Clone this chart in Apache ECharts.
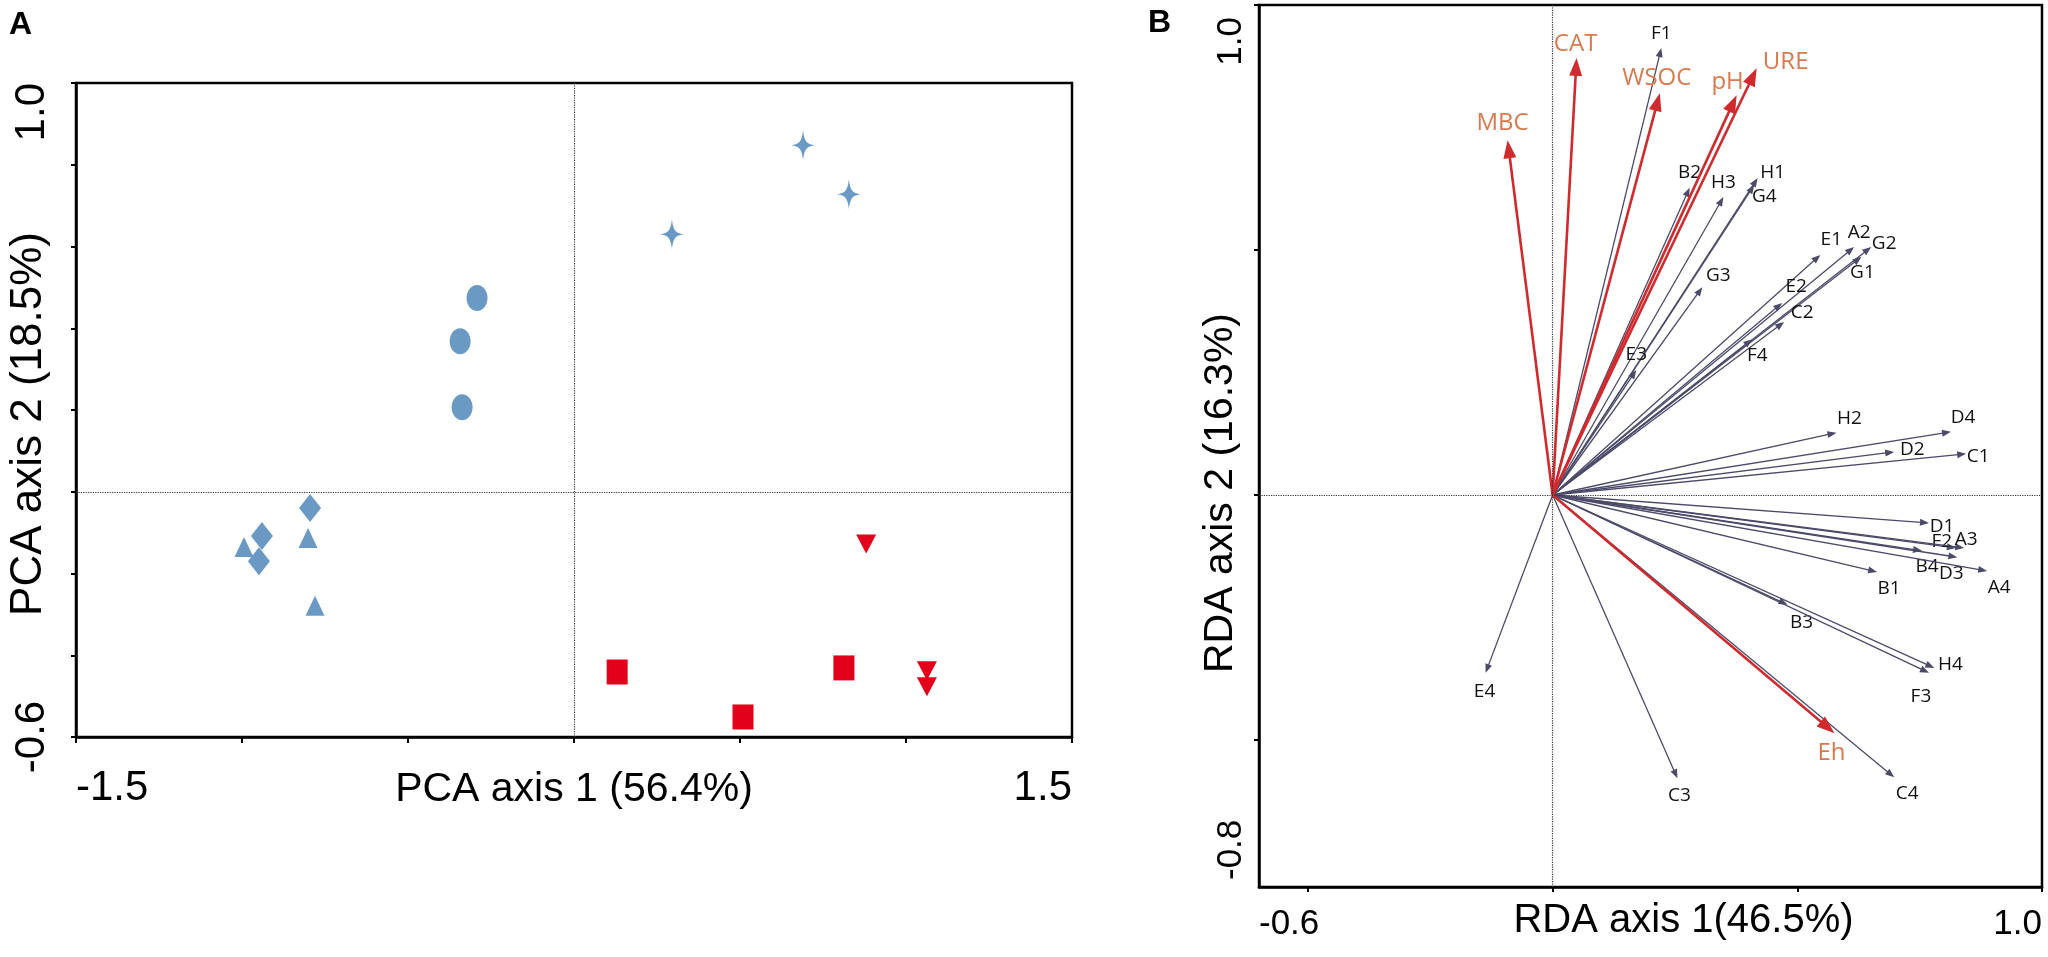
<!DOCTYPE html>
<html>
<head>
    <meta charset="utf-8">
    <title>PCA / RDA ordination</title>
    <style>
        html, body { margin: 0; padding: 0; background: #fff; }
        #main { width: 2048px; height: 957px; }
    </style>
</head>
<body>
<div id="main"></div>
<script src="https://cdn.jsdelivr.net/npm/echarts@6.0.0/dist/echarts.min.js"></script>
<script>
// ---- panel A : PCA sample scores ----
var pcaStar = [[0.690, 0.848], [0.828, 0.728], [0.295, 0.630]];
var pcaEllipse = [[-0.292, 0.474], [-0.343, 0.368], [-0.337, 0.207]];
var pcaDiamond = [[-0.795, -0.040], [-0.940, -0.108], [-0.949, -0.170]];
var pcaTriangle = [[-0.994, -0.135], [-0.801, -0.113], [-0.780, -0.279]];
var pcaDownTriangle = [[0.880, -0.128], [1.063, -0.438], [1.063, -0.477]];
var pcaSquare = [[0.130, -0.441], [0.509, -0.551], [0.813, -0.431]];

var pcaXLabels = [-1.5, 1.5];
var pcaYLabels = [-0.6, 1.0];

// ---- panel B : RDA biplot ----
var sampleNames = ['F1', 'B2', 'H3', 'H1', 'G4', 'E1', 'A2', 'G2', 'G1', 'G3', 'E2', 'C2', 'F4', 'E3',
    'H2', 'D4', 'D2', 'C1', 'D1', 'F2', 'A3', 'B4', 'D3', 'A4', 'B1', 'B3', 'H4', 'F3', 'C4', 'C3', 'E4'];
var sampleX = [0.222, 0.280, 0.349, 0.419, 0.412, 0.547, 0.616, 0.651, 0.631, 0.306, 0.469, 0.473, 0.408, 0.171,
    0.580, 0.814, 0.698, 0.845, 0.769, 0.824, 0.841, 0.755, 0.827, 0.888, 0.663, 0.480, 0.780, 0.769, 0.698, 0.255, -0.137];
var sampleY = [0.912, 0.627, 0.608, 0.647, 0.633, 0.490, 0.506, 0.506, 0.486, 0.424, 0.392, 0.353, 0.318, 0.255,
    0.127, 0.129, 0.088, 0.084, -0.057, -0.108, -0.108, -0.114, -0.127, -0.155, -0.157, -0.224, -0.353, -0.363, -0.576, -0.578, -0.363];

var envNames = ['MBC', 'CAT', 'WSOC', 'pH', 'URE', 'Eh'];
var envX = [-0.092, 0.049, 0.219, 0.376, 0.417, 0.576];
var envY = [0.724, 0.892, 0.820, 0.816, 0.871, -0.486];

var rdaXLabels = [-0.6, 1.0];
var rdaYLabels = [-0.8, 1.0];
var rdaTicks = [-0.5, 0, 0.5, 1.0];

// label placement relative to the arrow tip, in pixels
var labelOffset = {
    F1: [0, -15], B2: [0, -15], H3: [0, -14], H1: [15, -5], G4: [10, 12], E1: [11, -15], A2: [5, -14],
    G2: [13, -3], G1: [1, 16], G3: [16, -12], E2: [14, -16], C2: [18, -9], F4: [5, 16], E3: [0, -15],
    H2: [13, -14], D4: [12, -14], D2: [18, -2], C1: [12, 3], D1: [13, 4], F2: [-14, -6], A3: [2, -8],
    B4: [5, 16], D3: [-6, 16], A4: [12, 17], B1: [12, 17], B3: [14, 18], H4: [16, -3], F3: [-8, 24],
    C4: [13, 16], C3: [2, 17], E4: [-1, 19],
    MBC: [-5, -17], CAT: [-1, -14], WSOC: [-3, -15], pH: [-9, -13], URE: [29, -6], Eh: [-3, 20]
};

var FONT = "'Liberation Sans', Arial, sans-serif";
var BLUE = '#6a9ac3';
var RED = '#e2001a';

var STAR = 'path://M0,-15 C1.2,-4 3.5,-1.2 12,0 C3.5,1.2 1.2,4 0,15 C-1.2,4 -3.5,1.2 -12,0 C-3.5,-1.2 -1.2,-4 0,-15Z';
var ELLIPSE = 'path://M0,10 C0,4.5 4.5,0 10,0 C15.5,0 20,4.5 20,10 C20,15.5 15.5,20 10,20 C4.5,20 0,15.5 0,10Z';

function pairs(xs, ys) {
    return xs.map(function (x, i) { return [x, ys[i]]; });
}
function fmt(v) { return v.toFixed(1); }

var zeroLines = {
    silent: true,
    symbol: 'none',
    animation: false,
    label: { show: false },
    lineStyle: { type: 'dotted', color: '#333', width: 1.2 },
    data: [{ xAxis: 0 }, { yAxis: 0 }]
};

// arrow from the origin to (x, y), with a solid head and a text label
function arrowRenderer(names, st) {
    return function (params, api) {
        var name = names[params.dataIndex];
        var o = api.coord([0, 0]);
        var t = api.coord([api.value(0), api.value(1)]);
        var dx = t[0] - o[0], dy = t[1] - o[1];
        var len = Math.sqrt(dx * dx + dy * dy);
        var ux = dx / len, uy = dy / len;
        var bx = t[0] - ux * st.head, by = t[1] - uy * st.head;
        var off = labelOffset[name] || [0, -14];
        return {
            type: 'group',
            children: [
                { type: 'line', shape: { x1: o[0], y1: o[1], x2: bx + ux, y2: by + uy },
                  style: { stroke: st.color, lineWidth: st.width } },
                { type: 'polygon',
                  shape: { points: [[t[0], t[1]], [bx - uy * st.half, by + ux * st.half], [bx + uy * st.half, by - ux * st.half]] },
                  style: { fill: st.color } },
                { type: 'text', x: t[0] + off[0], y: t[1] + off[1],
                  style: { text: name, fill: st.textColor, fontSize: st.fontSize, fontFamily: "'Open Sans', sans-serif",
                           align: 'center', verticalAlign: 'middle' } }
            ]
        };
    };
}

var myChart = echarts.init(document.getElementById('main'));

var option = {
    animation: false,
    backgroundColor: '#fff',
    title: [
        { text: 'A', left: 4, top: 4, textStyle: { fontSize: 32, fontWeight: 'bold', fontFamily: FONT, color: '#000' } },
        { text: 'B', left: 1143, top: 2, textStyle: { fontSize: 32, fontWeight: 'bold', fontFamily: FONT, color: '#000' } }
    ],
    grid: [
        { left: 76, top: 83, width: 996, height: 654, show: true, borderColor: '#000', borderWidth: 2.5,
          containLabel: false, outerBoundsMode: 'none' },
        { left: 1259, top: 5, width: 783, height: 882, show: true, borderColor: '#000', borderWidth: 2.5,
          containLabel: false, outerBoundsMode: 'none' }
    ],
    xAxis: [
        {
            gridIndex: 0, type: 'value', min: -1.5, max: 1.5, interval: 0.5,
            splitLine: { show: false },
            axisLine: { onZero: false, lineStyle: { color: '#000', width: 2.5 } },
            axisTick: { length: 6, lineStyle: { color: '#000', width: 2 } },
            axisLabel: { customValues: pcaXLabels, formatter: fmt, alignMinLabel: 'left', alignMaxLabel: 'right',
                         margin: 30, fontSize: 42, color: '#000', fontFamily: FONT },
            name: 'PCA axis 1 (56.4%)', nameLocation: 'middle', nameGap: 32, nameMoveOverlap: false,
            nameTextStyle: { fontSize: 41, color: '#000', fontFamily: FONT }
        },
        {
            gridIndex: 1, type: 'value', min: -0.6, max: 1.0,
            splitLine: { show: false },
            axisLine: { onZero: false, lineStyle: { color: '#000', width: 2.5 } },
            axisTick: { customValues: rdaTicks, length: 5, lineStyle: { color: '#000', width: 2 } },
            axisLabel: { customValues: rdaXLabels, formatter: fmt, alignMinLabel: 'left', alignMaxLabel: 'right',
                         margin: 20, fontSize: 35, color: '#000', fontFamily: FONT },
            name: 'RDA axis 1(46.5%)', nameLocation: 'middle', nameGap: 14, nameMoveOverlap: false,
            nameTextStyle: { fontSize: 40, color: '#000', fontFamily: FONT, padding: [0, 0, 0, 66] }
        }
    ],
    yAxis: [
        {
            gridIndex: 0, type: 'value', min: -0.6, max: 1.0, interval: 0.2,
            splitLine: { show: false },
            axisLine: { onZero: false, lineStyle: { color: '#000', width: 2.5 } },
            axisTick: { length: 5, lineStyle: { color: '#000', width: 2 } },
            axisLabel: { customValues: pcaYLabels, formatter: fmt, rotate: 90, alignMinLabel: 'center', alignMaxLabel: 'right',
                         margin: 23, fontSize: 42, color: '#000', fontFamily: FONT },
            name: 'PCA axis 2 (18.5%)', nameLocation: 'middle', nameGap: 25, nameMoveOverlap: false,
            nameTextStyle: { fontSize: 44, color: '#000', fontFamily: FONT, padding: [0, 28, 0, 0] }
        },
        {
            gridIndex: 1, type: 'value', min: -0.8, max: 1.0,
            splitLine: { show: false },
            axisLine: { onZero: false, lineStyle: { color: '#000', width: 2.5 } },
            axisTick: { customValues: rdaTicks, length: 5, lineStyle: { color: '#000', width: 2 } },
            axisLabel: {
                customValues: rdaYLabels, rotate: 90, alignMinLabel: 'left', alignMaxLabel: 'right',
                margin: 10, fontSize: 35, color: '#000', fontFamily: FONT,
                formatter: function (v) { return v > 0 ? '{t|' + fmt(v) + '}' : '{b|' + fmt(v) + '}'; },
                rich: {
                    t: { fontSize: 35, fontFamily: FONT, color: '#000', padding: [0, 12, 0, 0] },
                    b: { fontSize: 35, fontFamily: FONT, color: '#000', padding: [0, 0, 0, 7] }
                }
            },
            name: 'RDA axis 2 (16.3%)', nameLocation: 'middle', nameGap: 18, nameMoveOverlap: false,
            nameTextStyle: { fontSize: 41, color: '#000', fontFamily: FONT, padding: [0, 94, 0, 0] }
        }
    ],
    series: [
        { type: 'scatter', xAxisIndex: 0, yAxisIndex: 0, data: pcaStar, symbol: STAR, symbolSize: [24, 30],
          itemStyle: { color: BLUE, opacity: 1 }, markLine: zeroLines },
        { type: 'scatter', xAxisIndex: 0, yAxisIndex: 0, data: pcaEllipse, symbol: ELLIPSE, symbolSize: [21, 26],
          itemStyle: { color: BLUE, opacity: 1 } },
        { type: 'scatter', xAxisIndex: 0, yAxisIndex: 0, data: pcaDiamond, symbol: 'diamond', symbolSize: [22, 28],
          itemStyle: { color: BLUE, opacity: 1 } },
        { type: 'scatter', xAxisIndex: 0, yAxisIndex: 0, data: pcaTriangle, symbol: 'triangle', symbolSize: [19, 20],
          itemStyle: { color: BLUE, opacity: 1 } },
        { type: 'scatter', xAxisIndex: 0, yAxisIndex: 0, data: pcaDownTriangle, symbol: 'triangle', symbolRotate: 180,
          symbolSize: [20, 19], itemStyle: { color: RED, opacity: 1 } },
        { type: 'scatter', xAxisIndex: 0, yAxisIndex: 0, data: pcaSquare, symbol: 'rect', symbolSize: [21, 25],
          itemStyle: { color: RED, opacity: 1 } },
        {
            type: 'custom', xAxisIndex: 1, yAxisIndex: 1, clip: false, z: 3,
            data: pairs(sampleX, sampleY),
            renderItem: arrowRenderer(sampleNames, { color: '#4b4a69', width: 1.3, head: 9, half: 3.5, textColor: '#111', fontSize: 19 }),
            markLine: zeroLines
        },
        {
            type: 'custom', xAxisIndex: 1, yAxisIndex: 1, clip: false, z: 4,
            data: pairs(envX, envY),
            renderItem: arrowRenderer(envNames, { color: '#cf2a2e', width: 2.6, head: 18, half: 6.5, textColor: '#d9794f', fontSize: 24 })
        }
    ]
};

myChart.setOption(option);
</script>
</body>
</html>
